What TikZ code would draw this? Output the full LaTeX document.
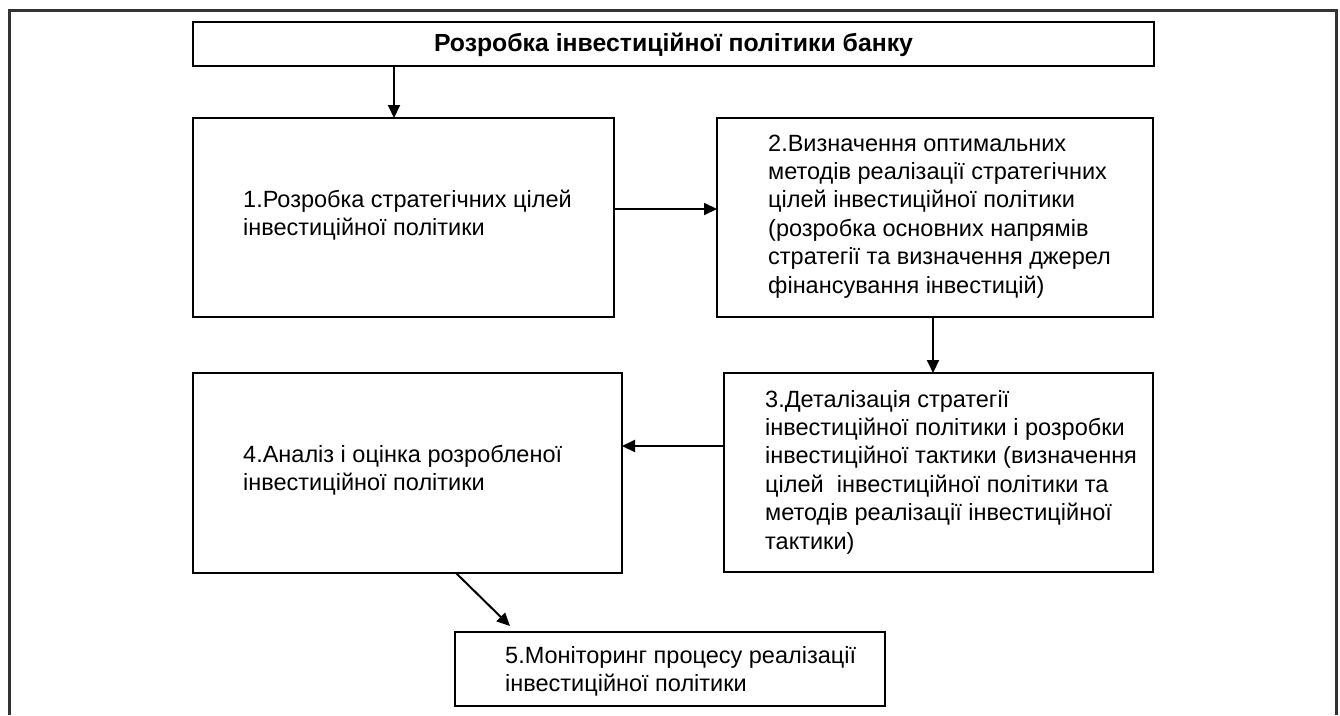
\documentclass[tikz,border=0pt]{standalone}
\usepackage{fontspec}
\setmainfont{Liberation Sans}
\usetikzlibrary{arrows.meta}
\begin{document}
\begin{tikzpicture}[x=1pt,y=-1pt,
  box/.style={draw=black,line width=2pt,inner sep=0pt,outer sep=0pt,rectangle},
  txt/.style={anchor=north west,inner sep=0pt,align=left,font=\fontsize{23.5}{28.4}\selectfont},
  arr/.style={line width=2pt,-{Triangle[length=13pt,width=12pt]}}]
\useasboundingbox (0,0) rectangle (1340,715);
\fill[white] (0,0) rectangle (1340,715);
\draw[line width=3pt,color=black!80] (9,715) -- (9,10) -- (1336,10) -- (1336,715);
% boxes
\node[box,minimum width=961pt,minimum height=44pt] (title) at (673.5,44) {};
\node[box,minimum width=421pt,minimum height=199pt] (b1) at (403.5,217.5) {};
\node[box,minimum width=436pt,minimum height=199pt] (b2) at (935,217.5) {};
\node[box,minimum width=429pt,minimum height=199pt] (b3) at (938.5,472.5) {};
\node[box,minimum width=429pt,minimum height=200pt] (b4) at (407.5,473) {};
\node[box,minimum width=430pt,minimum height=74pt] (b5) at (670,669) {};
% texts
\node[anchor=center,inner sep=0pt,font=\fontsize{24.8}{28}\selectfont\bfseries] (tt) at (673.5,45) {Розробка інвестиційної політики банку};
\node[txt] (t1) at (243,187) {\strut 1.Розробка стратегічних цілей\\інвестиційної політики};
\node[txt] (t2) at (768,131) {\strut 2.Визначення оптимальних\\методів реалізації стратегічних\\цілей інвестиційної політики\\(розробка основних напрямів\\стратегії та визначення джерел\\фінансування інвестицій)};
\node[txt] (t3) at (765,387) {\strut 3.Деталізація стратегії\\інвестиційної політики і розробки\\інвестиційної тактики (визначення\\цілей \ інвестиційної політики та\\методів реалізації інвестиційної\\тактики)};
\node[txt] (t4) at (243,442) {\strut 4.Аналіз і оцінка розробленої\\інвестиційної політики};
\node[txt] (t5) at (505,643) {\strut 5.Моніторинг процесу реалізації\\інвестиційної політики};
% helper coordinates
\coordinate (c1) at (394,0);
\coordinate (c2) at (0,209);
\coordinate (c3) at (933,0);
\coordinate (c4) at (0,446);
\coordinate (c5) at (456,0);
\coordinate (e5) at (510,626);
% arrows
\draw[arr] (title.south -| c1) -- (b1.north -| c1);
\draw[arr] (b1.east |- c2) -- (b2.west |- c2);
\draw[arr] (b2.south -| c3) -- (b3.north -| c3);
\draw[arr] (b3.west |- c4) -- (b4.east |- c4);
\draw[arr] (b4.south -| c5) -- (e5);
\end{tikzpicture}
\end{document}
